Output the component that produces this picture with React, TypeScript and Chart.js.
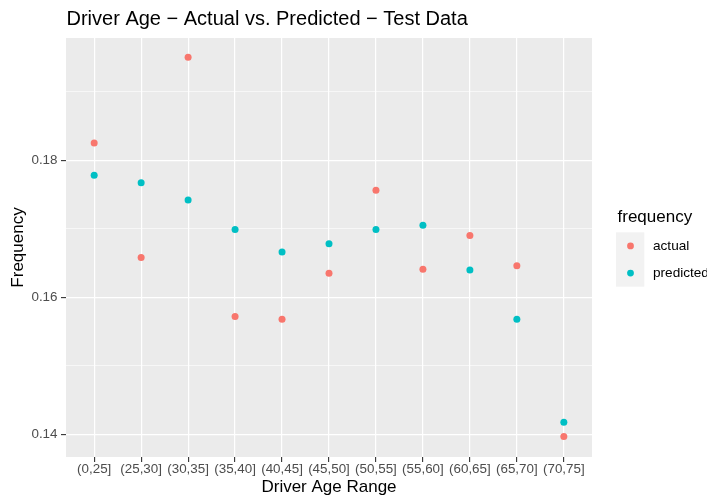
import React, { useEffect, useRef } from "react";
import { Chart, registerables } from "chart.js";

Chart.register(...registerables);

const categories = ["(0,25]", "(25,30]", "(30,35]", "(35,40]", "(40,45]", "(45,50]", "(50,55]", "(55,60]", "(60,65]", "(65,70]", "(70,75]"];
const actual = [0.1825, 0.1658, 0.1950, 0.1572, 0.1568, 0.1635, 0.1756, 0.1641, 0.1690, 0.1646, 0.1397];
const predicted = [0.1778, 0.1767, 0.1742, 0.1699, 0.1666, 0.1678, 0.1699, 0.1705, 0.1640, 0.1568, 0.1418];
const yMajorTicks = [0.14, 0.16, 0.18];
const yMinorTicks = [0.15, 0.17, 0.19];
const yMin = 0.13673;
const yMax = 0.1978;
const seriesNames = ["actual", "predicted"];
const seriesColors = ["#F8766D", "#00BFC4"];
const legendTitle = "frequency";
const titleText = "Driver Age \u2212 Actual vs. Predicted \u2212 Test Data";
const xTitle = "Driver Age Range";
const yTitle = "Frequency";

const FONT = "'Liberation Sans', Arial, Helvetica, sans-serif";

const ggPlugin = {
  id: "ggstyle",
  beforeDraw(chart: any) {
    const { ctx, chartArea } = chart;
    ctx.save();
    ctx.fillStyle = "#EBEBEB";
    ctx.fillRect(chartArea.left, chartArea.top, chartArea.right - chartArea.left, chartArea.bottom - chartArea.top);
    ctx.restore();
  },
  afterDraw(chart: any) {
    const { ctx, chartArea } = chart;
    ctx.save();
    // title
    ctx.fillStyle = "#000000";
    ctx.font = `20px ${FONT}`;
    ctx.textAlign = "left";
    ctx.textBaseline = "alphabetic";
    ctx.fillText(titleText, chartArea.left + 0.5, 25);

    // legend
    const lx = chartArea.right + 24;
    ctx.font = `17px ${FONT}`;
    ctx.fillText(legendTitle, lx + 1.5, 222);
    const keyTop = 232.3;
    const keyH = 27.2;
    ctx.fillStyle = "#F2F2F2";
    ctx.fillRect(lx, keyTop, 28.3, keyH * seriesNames.length);
    seriesNames.forEach((name, i) => {
      const cy = keyTop + keyH * (i + 0.5);
      ctx.beginPath();
      ctx.fillStyle = seriesColors[i];
      ctx.arc(lx + 14.5, cy, 3.4, 0, Math.PI * 2);
      ctx.fill();
      ctx.fillStyle = "#000000";
      ctx.font = `13.6px ${FONT}`;
      ctx.textBaseline = "middle";
      ctx.fillText(name, lx + 37, cy + 0.5);
    });
    ctx.restore();
  },
};

export default function App() {
  const canvasRef = useRef<HTMLCanvasElement | null>(null);

  useEffect(() => {
    if (!canvasRef.current) return;
    const chart = new Chart(canvasRef.current, {
      type: "scatter",
      data: {
        datasets: seriesNames.map((name, si) => ({
          label: name,
          data: (si === 0 ? actual : predicted).map((v, i) => ({ x: i, y: v })),
          backgroundColor: seriesColors[si],
          borderWidth: 0,
          pointRadius: 3.5,
          pointHoverRadius: 3.5,
        })),
      },
      options: {
        animation: false,
        responsive: true,
        maintainAspectRatio: false,
        layout: { padding: { left: 0, top: 38, right: 115, bottom: 0 } },
        plugins: {
          legend: { display: false },
          tooltip: { enabled: false },
          title: { display: false },
        },
        scales: {
          x: {
            type: "linear",
            min: -0.6,
            max: categories.length - 1 + 0.6,
            afterBuildTicks: (scale: any) => {
              scale.ticks = categories.map((_, i) => ({ value: i }));
            },
            afterFit: (scale: any) => {
              scale.height = 41;
            },
            ticks: {
              autoSkip: false,
              maxRotation: 0,
              minRotation: 0,
              padding: -0.5,
              color: "#4D4D4D",
              font: { family: FONT, size: 13.4 },
              callback: (_v: any, i: number) => categories[i],
            },
            grid: {
              color: "#FFFFFF",
              lineWidth: 1.2,
              tickColor: "#333333",
              tickLength: 5,
              tickWidth: 1.1,
              drawTicks: true,
            },
            border: { display: false },
            title: {
              display: true,
              text: xTitle,
              color: "#000000",
              font: { family: FONT, size: 17 },
              padding: { top: 0, bottom: 0 },
            },
          },
          y: {
            type: "linear",
            min: yMin,
            max: yMax,
            afterBuildTicks: (scale: any) => {
              scale.ticks = [...yMajorTicks, ...yMinorTicks].sort((a, b) => a - b).map((v) => ({ value: v }));
            },
            afterFit: (scale: any) => {
              scale.width = 66;
            },
            ticks: {
              padding: 3.5,
              color: "#4D4D4D",
              font: { family: FONT, size: 13.4 },
              callback: (v: any) => {
                const n = Number(v);
                return yMajorTicks.some((t) => Math.abs(t - n) < 1e-9) ? n.toFixed(2) : "";
              },
            },
            grid: {
              color: "#FFFFFF",
              lineWidth: (ctx: any) => {
                const n = ctx.tick ? ctx.tick.value : 0;
                return yMajorTicks.some((t) => Math.abs(t - n) < 1e-9) ? 1.2 : 0.6;
              },
              tickColor: (ctx: any) => {
                const n = ctx.tick ? ctx.tick.value : 0;
                return yMajorTicks.some((t) => Math.abs(t - n) < 1e-9) ? "#333333" : "rgba(0,0,0,0)";
              },
              tickLength: 5,
              tickWidth: 1.1,
            },
            border: { display: false },
            title: {
              display: true,
              text: yTitle,
              color: "#000000",
              font: { family: FONT, size: 17 },
              padding: { top: 8, bottom: 0 },
            },
          },
        },
      },
      plugins: [ggPlugin],
    });
    return () => chart.destroy();
  }, []);

  return (
    <div style={{ position: "fixed", left: 0, top: 0, width: 707, height: 498, background: "#FFFFFF" }}>
      <canvas ref={canvasRef} />
    </div>
  );
}
